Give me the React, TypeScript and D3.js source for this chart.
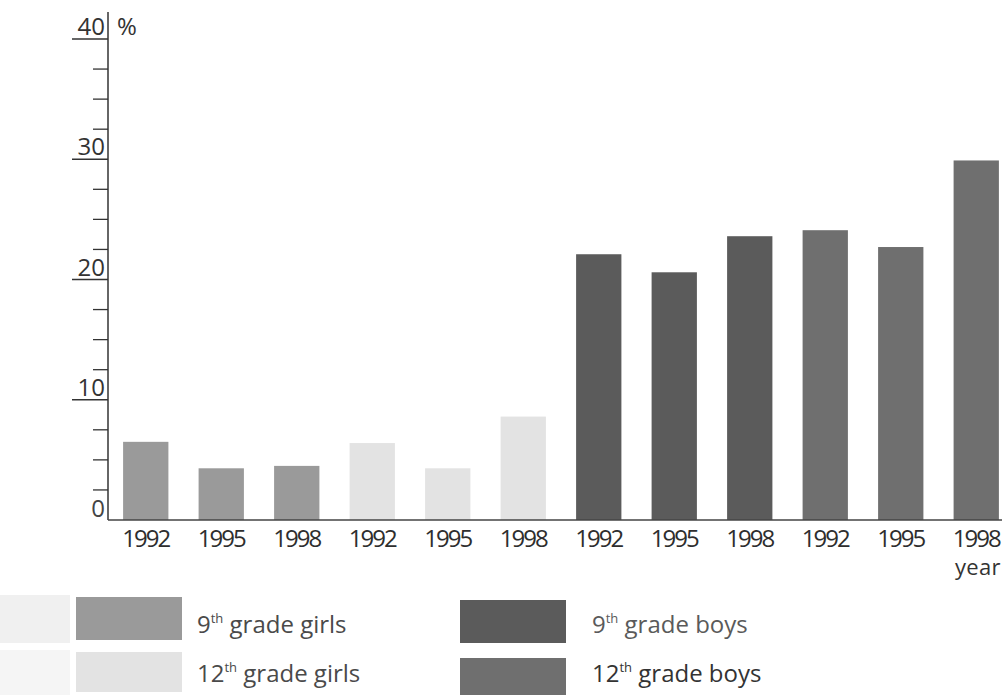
import React from 'react';
import * as d3 from 'd3';

// survey years, repeated for each group
const years = ['1992', '1995', '1998'];
const groups = ['9th grade girls', '12th grade girls', '9th grade boys', '12th grade boys'];

// share in %
const girls9 = [6.5, 4.3, 4.5];
const girls12 = [6.4, 4.3, 8.6];
const boys9 = [22.1, 20.6, 23.6];
const boys12 = [24.1, 22.7, 29.9];

const groupValues = [girls9, girls12, boys9, boys12];
const groupColors = ['#9a9a9a', '#e3e3e3', '#5b5b5b', '#6f6f6f'];

const majorTicks = [10, 20, 30, 40];
const minorTicks = [2.5, 5, 7.5, 12.5, 15, 17.5, 22.5, 25, 27.5, 32.5, 35, 37.5];

const width = 1002;
const height = 695;
const font = '"Open Sans", "Noto Sans", sans-serif';

const App: React.FC = () => {
  const bars = groups.flatMap((g, gi) =>
    years.map((yr, yi) => ({ key: `${gi}-${yi}`, year: yr, value: groupValues[gi][yi], color: groupColors[gi] }))
  );

  const x = d3.scaleBand<string>()
    .domain(bars.map(d => d.key))
    .range([108, 1014])
    .paddingInner(0.4)
    .paddingOuter(0.2);

  const y = d3.scaleLinear().domain([0, 40]).range([520, 39]);

  const axisX = 108;

  // legend layout: two columns, two rows
  const legend = groups.map((g, i) => {
    const col = i < 2 ? 0 : 1;
    const row = i % 2;
    const [num, rest] = [g.split('th')[0], g.split('th')[1]];
    return {
      num,
      rest,
      color: groupColors[i],
      sx: col === 0 ? 76 : 460,
      sy: row === 0 ? (col === 0 ? 597 : 600) : (col === 0 ? 652 : 658),
      sh: row === 0 ? 43 : 40,
      tx: col === 0 ? 197 : 592,
      ty: row === 0 ? 633 : 682,
      tc: col === 0 ? '#4a4a4a' : row === 0 ? '#5a5a5a' : '#333',
    };
  });

  return (
    <div style={{ position: 'absolute', left: 0, top: 0 }}>
      <svg width={width} height={height} style={{ display: 'block', background: '#fff' }} fontFamily={font}>
        {/* bars */}
        {bars.map(d => (
          <rect
            key={d.key}
            x={x(d.key)}
            y={y(d.value)}
            width={x.bandwidth()}
            height={y(0) - y(d.value)}
            fill={d.color}
          />
        ))}

        {/* y axis */}
        <line x1={axisX} x2={axisX} y1={12} y2={y(0)} stroke="#333" strokeWidth={1.5} />
        {majorTicks.map(t => (
          <g key={`M${t}`}>
            <line x1={72} x2={axisX} y1={y(t)} y2={y(t)} stroke="#333" strokeWidth={1.5} />
            <text x={105} y={y(t) - 4} textAnchor="end" fontSize={24} fill="#333">{t}</text>
          </g>
        ))}
        <text x={105} y={y(0) - 3} textAnchor="end" fontSize={24} fill="#444">0</text>
        {minorTicks.map(t => (
          <line key={`m${t}`} x1={93} x2={axisX} y1={y(t)} y2={y(t)} stroke="#333" strokeWidth={1.3} />
        ))}
        <text x={117} y={35} fontSize={24} fill="#333">%</text>

        {/* x axis */}
        <line x1={axisX} x2={width} y1={y(0)} y2={y(0)} stroke="#444" strokeWidth={1.5} />
        {bars.map(d => (
          <text
            key={`l${d.key}`}
            x={(x(d.key) ?? 0) + x.bandwidth() / 2}
            y={547}
            textAnchor="middle"
            fontSize={24}
            letterSpacing={-2}
            fill="#2e2e2e"
          >
            {d.year}
          </text>
        ))}
        <text x={955} y={575} fontSize={22} letterSpacing={0.3} fill="#333">year</text>

        {/* legend */}
        <rect x={0} y={595} width={70} height={48} fill="#f0f0f0" />
        <rect x={0} y={650} width={70} height={45} fill="#f5f5f5" />
        {legend.map((l, i) => (
          <g key={`lg${i}`}>
            <rect x={l.sx} y={l.sy} width={106} height={l.sh} fill={l.color} />
            <text x={l.tx} y={l.ty} fontSize={24} fill={l.tc}>
              {l.num}
              <tspan fontSize={13} dy={-10}>th</tspan>
              <tspan dy={10}>{l.rest}</tspan>
            </text>
          </g>
        ))}
      </svg>
    </div>
  );
};

export default App;
